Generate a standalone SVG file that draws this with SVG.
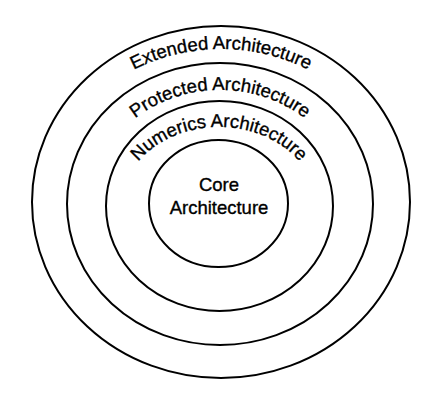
<svg xmlns="http://www.w3.org/2000/svg" width="431" height="405" viewBox="0 0 431 405">
<style>
.ring{fill:none;stroke:#000;stroke-width:2}
.lbl{font-family:"Liberation Sans",Arial,Helvetica,sans-serif;font-size:18.5px;fill:#000;stroke:#000;stroke-width:0.35}
</style>
<defs>
<path id="pExt" d="M47,203 A174,154 0 0 1 395,203"/>
<path id="pPro" d="M91,205 A129,115 0 0 1 349,205"/>
<path id="pNum" d="M120.5,208 A98.5,81 0 0 1 317.5,208"/>
</defs>
<rect width="431" height="405" fill="#fff"/>
<g id="extended">
<ellipse class="ring" cx="221" cy="202" rx="189" ry="176"/>
<text class="lbl" text-anchor="middle"><textPath href="#pExt" startOffset="50%">Extended Architecture</textPath></text>
</g>
<g id="protected">
<ellipse class="ring" cx="220" cy="204" rx="153" ry="141"/>
<text class="lbl" text-anchor="middle"><textPath href="#pPro" startOffset="50%">Protected Architecture</textPath></text>
</g>
<g id="numerics">
<ellipse class="ring" cx="219.5" cy="206" rx="113.5" ry="105"/>
<text class="lbl" text-anchor="middle"><textPath href="#pNum" startOffset="50%">Numerics Architecture</textPath></text>
</g>
<g id="core">
<ellipse class="ring" cx="218.5" cy="203.5" rx="69.5" ry="63.5"/>
<text class="lbl" text-anchor="middle" x="219" y="191">Core</text>
<text class="lbl" text-anchor="middle" x="219" y="214">Architecture</text>
</g>
<g id="connectors"/>
</svg>
